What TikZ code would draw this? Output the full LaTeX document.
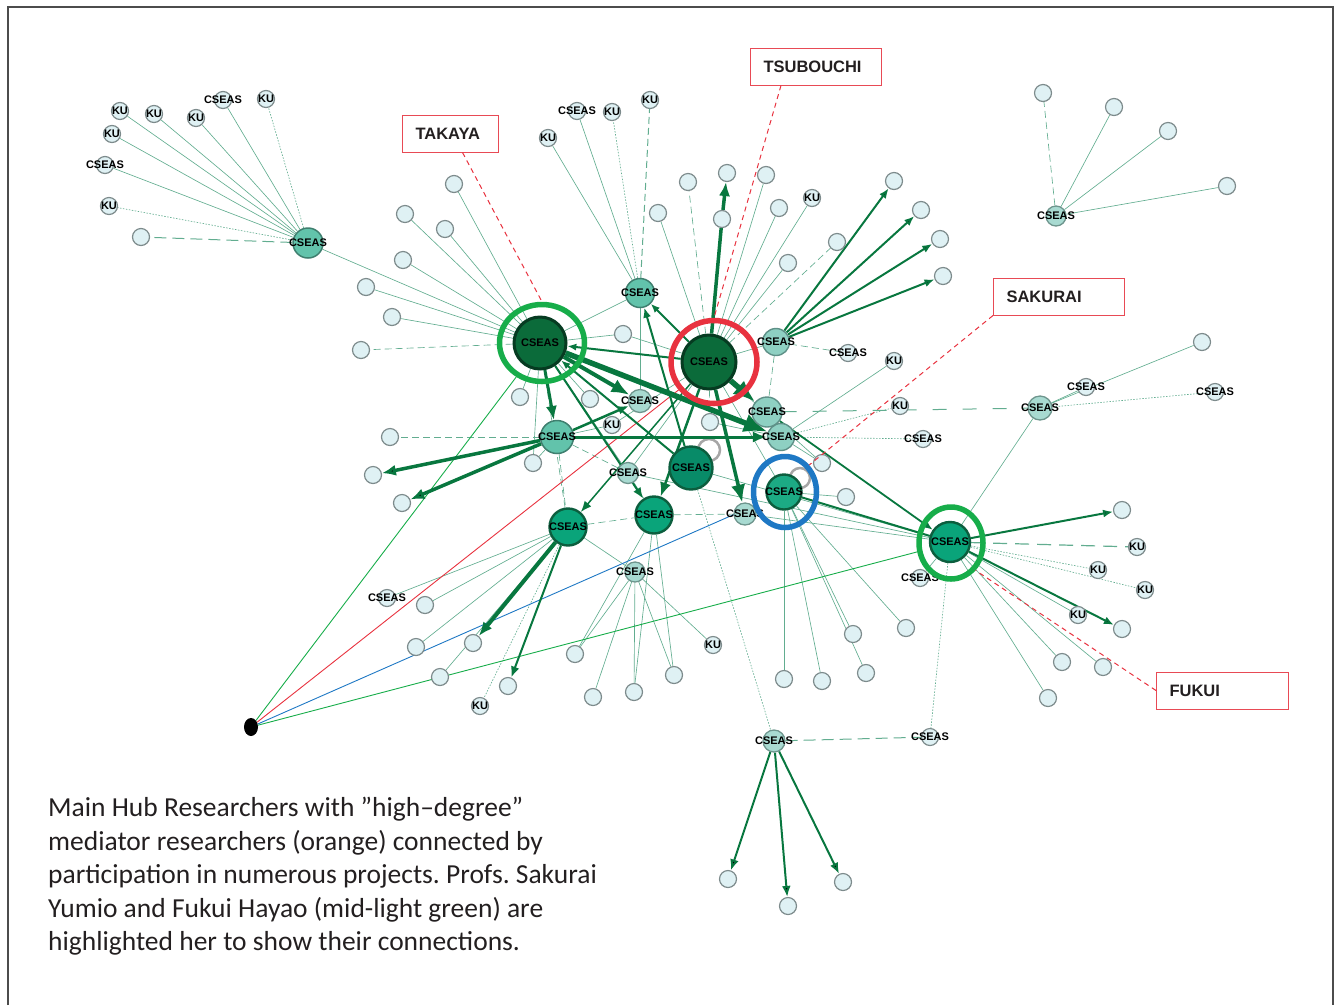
\documentclass[tikz,border=0pt]{standalone}
\usepackage{fontspec}
\setmainfont{Carlito}
\newfontfamily\arialfont{Liberation Sans}
\usetikzlibrary{arrows.meta,shapes.geometric,backgrounds}
\frenchspacing
\definecolor{lightfill}{HTML}{DFF1F4}
\definecolor{lightdraw}{HTML}{7D8B8C}
\definecolor{tealfill}{HTML}{62C3AB}
\definecolor{tealdraw}{HTML}{3F7F6F}
\definecolor{sofill}{HTML}{8ED0C2}
\definecolor{sodraw}{HTML}{5E9087}
\definecolor{palefill}{HTML}{A8DAD1}
\definecolor{paledraw}{HTML}{6E958D}
\definecolor{hubfill}{HTML}{0B6B3A}
\definecolor{hubdraw}{HTML}{063B21}
\definecolor{midfill}{HTML}{0AA47A}
\definecolor{middraw}{HTML}{0C5E3E}
\definecolor{arrowgreen}{HTML}{08773F}
\definecolor{linkgreen}{HTML}{62AD90}
\definecolor{ringgreen}{HTML}{17AD4A}
\definecolor{ringred}{HTML}{E8323F}
\definecolor{ringblue}{HTML}{1E78C4}
\definecolor{boxred}{HTML}{E84A55}
\definecolor{inkgray}{HTML}{231F20}
\newcommand{\cseasfont}{\arialfont\bfseries\fontsize{11}{12}\selectfont}
\newcommand{\tagfont}{\arialfont\bfseries\fontsize{16.5}{18}\selectfont}
\newcommand{\notefont}{\fontsize{27.5}{33.5}\selectfont}
\tikzset{
    lnode/.style={circle, draw=lightdraw, fill=lightfill, line width=1.2pt, minimum size=17pt, inner sep=0pt},
    tnode/.style={circle, draw=tealdraw, fill=tealfill, line width=1.5pt, inner sep=0pt},
    snode/.style={circle, draw=sodraw, fill=sofill, line width=1.4pt, inner sep=0pt},
    pnode/.style={circle, draw=paledraw, fill=palefill, line width=1.3pt, inner sep=0pt},
    hub/.style={circle, draw=hubdraw, fill=hubfill, line width=3pt, inner sep=0pt},
    mid/.style={circle, draw=middraw, fill=midfill, line width=2.4pt, inner sep=0pt},
    ring/.style={ellipse, line width=5.5pt, inner sep=0pt},
    cs/.style={label={[font=\cseasfont, inner sep=0pt]center:CSEAS}},
    ku/.style={label={[font=\cseasfont, inner sep=0pt]center:KU}},
    tagbox/.style={draw=boxred, line width=1pt, fill=white, anchor=west, inner xsep=13pt, minimum height=37pt, text width=#1, align=left, font=\tagfont, text=inkgray},
    tagline/.style={draw=ringred, line width=1pt, dash pattern=on 5pt off 4pt},
    link/.style={draw=linkgreen, line width=0.65pt},
    linkdash/.style={link, dash pattern=on 7pt off 4pt},
    linkdot/.style={link, dash pattern=on 1.5pt off 1.5pt},
    arr/.style={draw=arrowgreen, -{Latex[length=#1, width'=0pt 0.8]}},
    selfloop/.style={draw=black!35, line width=2.5pt},
    note/.style={align=left, inner sep=0pt, font=\notefont, text=inkgray}
}
\begin{document}
\begin{tikzpicture}[x=1pt,y=-1pt]
    \useasboundingbox (0,0) rectangle (1338,1005);
    \draw[black!70, line width=1.5pt] (8,1005) -- (8,7) -- (1333,7) -- (1333,1005);

    \node[hub, minimum size=52pt, cs] (tak) at (540,343) {};
    \node[hub, minimum size=54pt, cs] (tsu) at (709,362) {};
    \node[mid, minimum size=43pt, cs, fill=midfill!85!black] (m1) at (691,468) {};
    \node[mid, minimum size=37pt, cs] (m2) at (568,527) {};
    \node[mid, minimum size=37pt, cs] (m3) at (654,515) {};
    \node[mid, minimum size=35pt, cs, fill=midfill!80!tealfill] (sak) at (784,492) {};
    \node[mid, minimum size=40pt, cs] (fuk) at (950,542) {};

    \node[tnode, minimum size=30pt, cs] (lh) at (308,243) {};
    \node[tnode, minimum size=29pt, cs] (t1) at (640,293) {};
    \node[snode, minimum size=27pt, cs] (t2) at (776,342) {};
    \node[tnode, minimum size=33pt, cs] (t3) at (557,437) {};
    \node[snode, minimum size=30pt, cs] (t4) at (767,412) {};
    \node[snode, minimum size=27pt, cs] (t5) at (781,437) {};

    \node[pnode, minimum size=23pt, cs] (p1) at (640,401) {};
    \node[pnode, minimum size=21pt, cs] (p2) at (628,473) {};
    \node[pnode, minimum size=22pt, cs] (p3) at (745,514) {};
    \node[pnode, minimum size=20pt, cs] (p4) at (635,572) {};
    \node[pnode, minimum size=24pt, cs] (p5) at (1040,408) {};
    \node[pnode, minimum size=20pt, cs] (p6) at (1056,216) {};
    \node[pnode, minimum size=22pt, cs] (p7) at (774,741) {};

    \node[lnode, cs] (c1) at (223,100) {};
    \node[lnode, cs] (c2) at (105,165) {};
    \node[lnode, cs] (c3) at (577,111) {};
    \node[lnode, cs] (c4) at (848,353) {};
    \node[lnode, cs] (c5) at (923,439) {};
    \node[lnode, cs] (c6) at (1086,387) {};
    \node[lnode, cs] (c7) at (1215,392) {};
    \node[lnode, cs] (c8) at (920,578) {};
    \node[lnode, cs] (c9) at (387,598) {};
    \node[lnode, cs] (c10) at (930,737) {};

    \node[lnode, ku] (k1) at (120,111) {};
    \node[lnode, ku] (k2) at (154,114) {};
    \node[lnode, ku] (k3) at (196,118) {};
    \node[lnode, ku] (k4) at (266,99) {};
    \node[lnode, ku] (k5) at (112,134) {};
    \node[lnode, ku] (k6) at (109,206) {};
    \node[lnode, ku] (k7) at (548,138) {};
    \node[lnode, ku] (k8) at (612,112) {};
    \node[lnode, ku] (k9) at (650,100) {};
    \node[lnode, ku] (k10) at (812,198) {};
    \node[lnode, ku] (k11) at (894,361) {};
    \node[lnode, ku] (k12) at (900,406) {};
    \node[lnode, ku] (k13) at (612,425) {};
    \node[lnode, ku] (k14) at (1137,547) {};
    \node[lnode, ku] (k15) at (1098,570) {};
    \node[lnode, ku] (k16) at (1145,590) {};
    \node[lnode, ku] (k17) at (1078,615) {};
    \node[lnode, ku] (k18) at (713,645) {};
    \node[lnode, ku] (k19) at (480,706) {};

    \node[lnode] (e1) at (141,237) {};
    \node[lnode] (e2) at (454,184) {};
    \node[lnode] (e3) at (405,214) {};
    \node[lnode] (e4) at (445,229) {};
    \node[lnode] (e5) at (403,260) {};
    \node[lnode] (e6) at (366,287) {};
    \node[lnode] (e7) at (392,317) {};
    \node[lnode] (e8) at (361,350) {};
    \node[lnode] (e9) at (623,334) {};
    \node[lnode] (e10) at (520,397) {};
    \node[lnode] (e11) at (590,399) {};
    \node[lnode] (e12) at (390,437) {};
    \node[lnode] (e13) at (533,463) {};
    \node[lnode] (e14) at (373,475) {};
    \node[lnode] (e15) at (402,503) {};
    \node[lnode] (e16) at (425,605) {};
    \node[lnode] (e17) at (416,647) {};
    \node[lnode] (e18) at (473,643) {};
    \node[lnode] (e19) at (440,677) {};
    \node[lnode] (e20) at (508,686) {};
    \node[lnode] (e21) at (575,654) {};
    \node[lnode] (e22) at (593,697) {};
    \node[lnode] (e23) at (634,692) {};
    \node[lnode] (e24) at (674,675) {};
    \node[lnode] (e25) at (688,182) {};
    \node[lnode] (e26) at (727,173) {};
    \node[lnode] (e27) at (766,175) {};
    \node[lnode] (e28) at (722,219) {};
    \node[lnode] (e29) at (658,213) {};
    \node[lnode] (e30) at (779,208) {};
    \node[lnode] (e31) at (788,263) {};
    \node[lnode] (e32) at (837,242) {};
    \node[lnode] (e33) at (894,181) {};
    \node[lnode] (e34) at (921,210) {};
    \node[lnode] (e35) at (940,239) {};
    \node[lnode] (e36) at (943,276) {};
    \node[lnode] (e37) at (1043,93) {};
    \node[lnode] (e38) at (1114,107) {};
    \node[lnode] (e39) at (1168,131) {};
    \node[lnode] (e40) at (1227,186) {};
    \node[lnode] (e41) at (1202,342) {};
    \node[lnode] (e42) at (822,463) {};
    \node[lnode] (e43) at (846,497) {};
    \node[lnode] (e44) at (710,422) {};
    \node[lnode] (e45) at (1122,510) {};
    \node[lnode] (e46) at (1122,629) {};
    \node[lnode] (e47) at (1062,662) {};
    \node[lnode] (e48) at (1103,667) {};
    \node[lnode] (e49) at (1048,698) {};
    \node[lnode] (e50) at (906,628) {};
    \node[lnode] (e51) at (853,634) {};
    \node[lnode] (e52) at (866,673) {};
    \node[lnode] (e53) at (822,681) {};
    \node[lnode] (e54) at (784,679) {};
    \node[lnode] (e55) at (728,879) {};
    \node[lnode] (e56) at (788,906) {};
    \node[lnode] (e57) at (843,882) {};

    \node[ellipse, fill=black, minimum width=14pt, minimum height=18pt, inner sep=0pt] (src) at (251,727) {};

    \node[ring, draw=ringgreen, minimum width=85pt, minimum height=77pt] (ringtak) at (542,343) {};
    \node[ring, draw=ringred, minimum width=86pt, minimum height=83pt] (ringtsu) at (714,362) {};
    \node[ring, draw=ringblue, minimum width=63pt, minimum height=71pt] (ringsak) at (785,492) {};
    \node[ring, draw=ringgreen, minimum width=64pt, minimum height=72pt] (ringfuk) at (951,543) {};

    \node[tagbox=70pt] (tagtak) at (402,133.5) {TAKAYA};
    \node[tagbox=105pt] (tagtsu) at (750,66.5) {TSUBOUCHI};
    \node[tagbox=105pt] (tagsak) at (993,296.5) {SAKURAI};
    \node[tagbox=106pt] (tagfuk) at (1156,690.5) {FUKUI};
    \draw[tagline] ([xshift=12pt]tagtak.south) -- (ringtak.north);
    \draw[tagline] ([xshift=-35pt]tagtsu.south) -- (ringtsu.north);
    \draw[tagline] (tagsak.south west) -- (ringsak.north east);
    \draw[tagline] (tagfuk.west) -- (ringfuk.south east);

    \node[note, anchor=north west] (note) at (48,797) {Main Hub Researchers with ”high–degree”\\mediator researchers (orange) connected by\\participation in numerous projects. Profs. Sakurai\\Yumio and Fukui Hayao (mid-light green) are\\highlighted her to show their connections.};

    \begin{pgfonlayer}{background}
        \draw[link] (lh) edge (k1) edge (k2) edge (k3) edge (c1) edge (k5) edge (c2) edge (tak);
        \draw[linkdot] (lh) edge (k4) edge (k6);
        \draw[linkdash, line width=1pt, dash pattern=on 12pt off 6pt] (lh) -- (e1);
        \draw[link] (t1) edge (k7) edge (c3) edge (p1);
        \draw[linkdot] (t1) -- (k8);
        \draw[linkdash, line width=1pt] (t1) -- (k9);
        \draw[link] (tak) edge (e2) edge (e3) edge (e4) edge (e5) edge (e6) edge (e7) edge (e9) edge (e10) edge (e11) edge (t1) edge (p2) edge (e13);
        \draw[linkdash] (tak) edge (e8) edge (m2);
        \draw[link] (tsu) edge (e29) edge (e27) edge (e30) edge (k10) edge (e31) edge (e9) edge (e42) edge (t2) edge (p2) edge (sak) edge (k13);
        \draw[linkdash] (tsu) edge (e25) edge (e32) edge (e44);
        \draw[linkdash] (t2) edge (c4) edge (t4);
        \draw[link, line width=1pt, dash pattern=on 14pt off 16pt] (t4) -- (p5);
        \draw[link] (t5) edge (k11) edge (e42) edge (e44);
        \draw[linkdot] (t5) edge (k12) edge (c5);
        \draw[link] (p5) edge (c6) edge (e41) edge (fuk);
        \draw[linkdot] (p5) -- (c7);
        \draw[linkdash] (p6) -- (e37);
        \draw[link] (p6) edge (e38) edge (e39) edge (e40);
        \draw[link] (fuk) edge (k17) edge (e47) edge (e48) edge (e49) edge (c8) edge (p3) edge (m1) edge (p2);
        \draw[linkdot] (fuk) edge (k15) edge (k16) edge (c10);
        \draw[link, line width=1.2pt, dash pattern=on 14pt off 8pt] (fuk) -- (k14);
        \draw[link] (sak) edge (e43) edge (e50) edge (e51) edge (e52) edge (e53) edge (e54);
        \draw[link] (m2) edge (c9) edge (e16) edge (e17) edge (e19) edge (p4);
        \draw[linkdot] (m2) -- (k19);
        \draw[link] (p4) edge (e21) edge (e22) edge (e23) edge (e24) edge (k18);
        \draw[linkdot] (m1) -- (p7);
        \draw[linkdash, line width=1pt, dash pattern=on 12pt off 6pt] (p7) -- (c10);
        \draw[linkdash] (t3) edge (e12) edge (m2) edge (p2);
        \draw[link] (t3) edge (e13) edge (k13);
        \draw[linkdash] (m2) -- (m3);
        \draw[linkdash] (m3) -- (p3);
        \draw[link] (m3) edge (e23) edge (e24) edge (p2) edge (e21);

        \draw[ringgreen, line width=0.9pt] (src) -- (ringtak);
        \draw[ringred, line width=0.9pt] (src) -- (ringtsu);
        \draw[ringblue, line width=0.9pt] (src) -- (ringsak);
        \draw[ringgreen, line width=0.9pt] (src) -- (ringfuk);

        \draw[selfloop] ([shift={(18,-18)}]m1) circle[radius=11pt];
        \draw[selfloop] ([shift={(16,-14)}]sak) circle[radius=10pt];

        \draw[arr=14pt, line width=3pt] (tak) -- (t3);
        \draw[arr=18pt, line width=4pt] (tak) -- (p1);
        \draw[arr=24pt, line width=5.5pt] (tak) -- (t5);
        \draw[arr=11pt, line width=2pt] (tak) -- (m3);
        \draw[arr=9pt, line width=2pt] (tsu) -- (tak);
        \draw[arrowgreen, line width=3.5pt] (tsu) -- (e28);
        \draw[arr=14pt, line width=3.5pt] (e28) -- (e26);
        \draw[arr=22pt, line width=5.5pt] (tsu) -- (t4);
        \draw[arr=18pt, line width=3.5pt] (tsu) -- (p3);
        \draw[arr=14pt, line width=2.5pt] (tsu) -- (m3);
        \draw[arr=9pt, line width=2pt] (tsu) -- (t1);
        \draw[arr=11pt, line width=1.5pt] (tsu) -- (m2);
        \draw[arr=10pt, line width=2pt] (t2) edge (e33) edge (e34) edge (e35) edge (e36);
        \draw[arr=14pt, line width=3.5pt] (t3) edge (e14) edge (e15);
        \draw[arr=14pt, line width=3pt] (t3) -- (t5);
        \draw[arr=11pt, line width=2.5pt] (t3) -- (p1);
        \draw[arr=14pt, line width=4pt] (m2) -- (e18);
        \draw[arr=11pt, line width=2pt] (m2) -- (e20);
        \draw[arr=10pt, line width=2pt] (m1) -- (t1);
        \draw[arr=9pt, line width=2pt] (m1) -- (tak);
        \draw[arr=10pt, line width=2pt] (fuk) edge (e45) edge (e46);
        \draw[arr=10pt, line width=1.8pt] (t4) -- (fuk);
        \draw[arrowgreen, line width=2pt] (sak) -- (fuk);
        \draw[arr=11pt, line width=2pt] (p7) edge (e55) edge (e56) edge (e57);
    \end{pgfonlayer}
\end{tikzpicture}
\end{document}
